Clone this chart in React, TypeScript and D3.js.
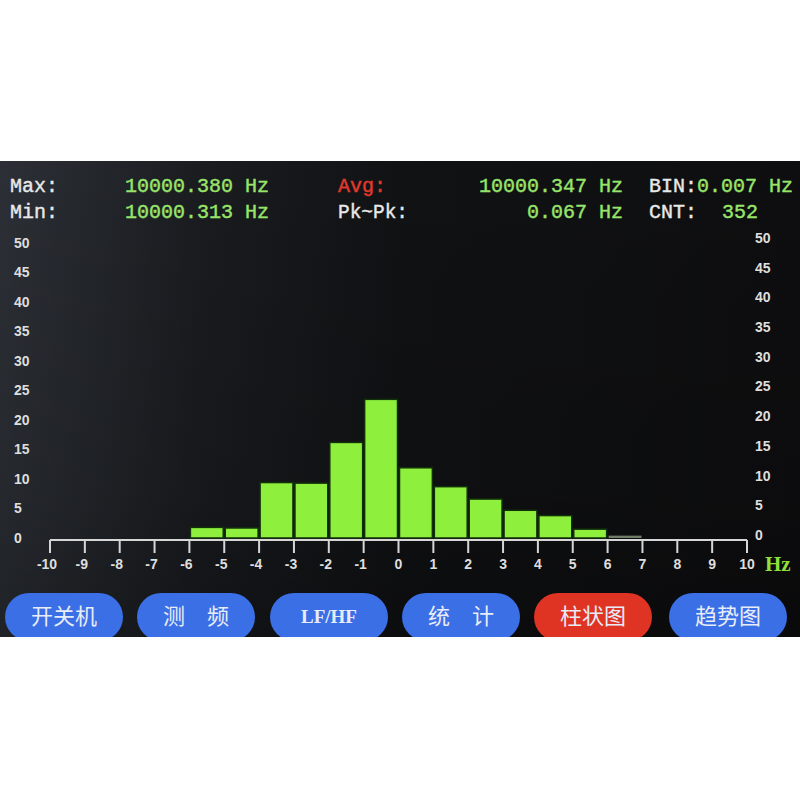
import React from "react";
import * as d3 from "d3";

// ---- data ----
const binStarts = [-6, -5, -4, -3, -2, -1, 0, 1, 2, 3, 4, 5, 6];
const percents = [1.8, 1.7, 9.4, 9.3, 16.2, 23.5, 11.9, 8.7, 6.6, 4.7, 3.8, 1.5, 0.4];
const xTicks = d3.range(-10, 11, 1);
const yTicks = [0, 5, 10, 15, 20, 25, 30, 35, 40, 45, 50];
const buttonLabels = ["开关机", "测　频", "LF/HF", "统　计", "柱状图", "趋势图"];
const activeButton = "柱状图";

const headerLeft = [
  { label: "Max:", value: "10000.380 Hz" },
  { label: "Min:", value: "10000.313 Hz" },
];
const headerMid = [
  { label: "Avg:", value: "10000.347 Hz" },
  { label: "Pk~Pk:", value: "0.067 Hz" },
];
const headerRight = [
  { label: "BIN:", value: "0.007 Hz" },
  { label: "CNT:", value: "352" },
];

const W = 800;
const H = 800;

export default function App() {
  const x = d3.scaleLinear().domain([-10, 10]).range([50, 747]);
  const y = d3.scaleLinear().domain([0, 50]).range([538, 243]);
  const yR = d3.scaleLinear().domain([0, 50]).range([535, 238]);
  const screenTop = 161;
  const screenBottom = 637;
  const axisY = 540;

  const mono = "'Liberation Mono', 'DejaVu Sans Mono', monospace";
  const green = "#98e46a";
  const white = "#e8e8e8";
  const red = "#e2392d";

  const btnX = [5, 137, 270, 402, 534, 669];
  const btnW = 118;

  return (
    <div style={{ position: "absolute", left: 0, top: 0 }}>
      <svg width={W} height={H} viewBox={`0 0 ${W} ${H}`} style={{ display: "block" }}>
        <defs>
          <linearGradient id="bg" x1="0" y1="0" x2="1" y2="0">
            <stop offset="0" stopColor="#2c3036" />
            <stop offset="0.25" stopColor="#1a1c20" />
            <stop offset="0.5" stopColor="#111214" />
            <stop offset="1" stopColor="#0e0e10" />
          </linearGradient>
          <linearGradient id="bgv" x1="0" y1="0" x2="0" y2="1">
            <stop offset="0" stopColor="#000" stopOpacity="0" />
            <stop offset="0.7" stopColor="#000" stopOpacity="0.15" />
            <stop offset="1" stopColor="#000" stopOpacity="0.3" />
          </linearGradient>
          <clipPath id="screen">
            <rect x={0} y={screenTop} width={W} height={screenBottom - screenTop} />
          </clipPath>
        </defs>
        <rect x={0} y={0} width={W} height={H} fill="#ffffff" />
        <rect x={0} y={screenTop} width={W} height={screenBottom - screenTop} fill="url(#bg)" />
        <rect x={0} y={screenTop} width={W} height={screenBottom - screenTop} fill="url(#bgv)" />

        {/* header */}
        <g fontFamily={mono} fontSize={20} strokeWidth={0.4}>
          {headerLeft.map((h, i) => (
            <g key={h.label}>
              <text x={10} y={192 + i * 26} fill={white} stroke={white}>{h.label}</text>
              <text x={125} y={192 + i * 26} fill={green} stroke={green}>{h.value}</text>
            </g>
          ))}
          {headerMid.map((h, i) => (
            <g key={h.label}>
              <text
                x={338}
                y={192 + i * 26}
                fill={i === 0 ? red : white}
                stroke={i === 0 ? red : white}
                textLength={i === 1 ? 70 : undefined}
                lengthAdjust="spacingAndGlyphs"
              >
                {h.label}
              </text>
              <text x={623} y={192 + i * 26} fill={green} stroke={green} textAnchor="end">{h.value}</text>
            </g>
          ))}
          {headerRight.map((h, i) => (
            <g key={h.label}>
              <text x={649} y={192 + i * 26} fill={white} stroke={white}>{h.label}</text>
              <text x={i === 0 ? 697 : 722} y={192 + i * 26} fill={green} stroke={green}>{h.value}</text>
            </g>
          ))}
        </g>

        {/* y axis labels */}
        <g fontFamily="'Liberation Sans', Arial, sans-serif" fontSize={14} fontWeight="bold" fill="#dedede">
          {yTicks.map((t) => (
            <text key={"l" + t} x={14} y={y(t)} dy="0.35em">{t}</text>
          ))}
          {yTicks.map((t) => (
            <text key={"r" + t} x={755} y={yR(t)} dy="0.35em">{t}</text>
          ))}
        </g>

        {/* bars */}
        <g>
          {binStarts.map((b, i) => {
            const last = i === binStarts.length - 1;
            return (
              <rect
                key={b}
                x={x(b) + 1}
                y={y(percents[i])}
                width={x(b + 1) - x(b) - 2}
                height={y(0) - y(percents[i])}
                fill={last ? "#6f7d66" : "#8ef03c"}
                stroke={last ? "none" : "#12300a"}
                strokeWidth={1.5}
              />
            );
          })}
        </g>

        {/* x axis */}
        <g stroke="#d6d6d6" strokeWidth={2}>
          <line x1={x(-10)} x2={x(10)} y1={axisY} y2={axisY} />
          {xTicks.map((t) => (
            <line key={t} x1={x(t)} x2={x(t)} y1={axisY} y2={553} />
          ))}
        </g>
        <g fontFamily="'Liberation Sans', Arial, sans-serif" fontSize={14} fontWeight="bold" fill="#dedede" textAnchor="middle">
          {xTicks.map((t) => (
            <text key={t} x={x(t) - (t < 0 ? 3 : 0)} y={569}>{t}</text>
          ))}
        </g>
        <text x={765} y={571} fontFamily="'Liberation Serif', serif" fontWeight="bold" fontSize={21} fill="#8fe03a">Hz</text>

        {/* buttons */}
        <g clipPath="url(#screen)">
          {buttonLabels.map((lbl, i) => {
            const active = lbl === activeButton;
            const isLatin = /^[A-Za-z\/]+$/.test(lbl);
            return (
              <g key={lbl}>
                <rect
                  x={btnX[i]}
                  y={593}
                  width={btnW}
                  height={48}
                  rx={24}
                  fill={active ? "#df3424" : "#3b6fe6"}
                />
                <text
                  x={btnX[i] + btnW / 2}
                  y={616}
                  dy="0.36em"
                  textAnchor="middle"
                  fill="#e8ecf6"
                  fontSize={isLatin ? 19 : 22}
                  fontWeight={isLatin ? "bold" : "normal"}
                  fontFamily={isLatin ? "'Liberation Serif', serif" : "'Noto Sans CJK SC', sans-serif"}
                >
                  {lbl}
                </text>
              </g>
            );
          })}
        </g>
      </svg>
    </div>
  );
}
